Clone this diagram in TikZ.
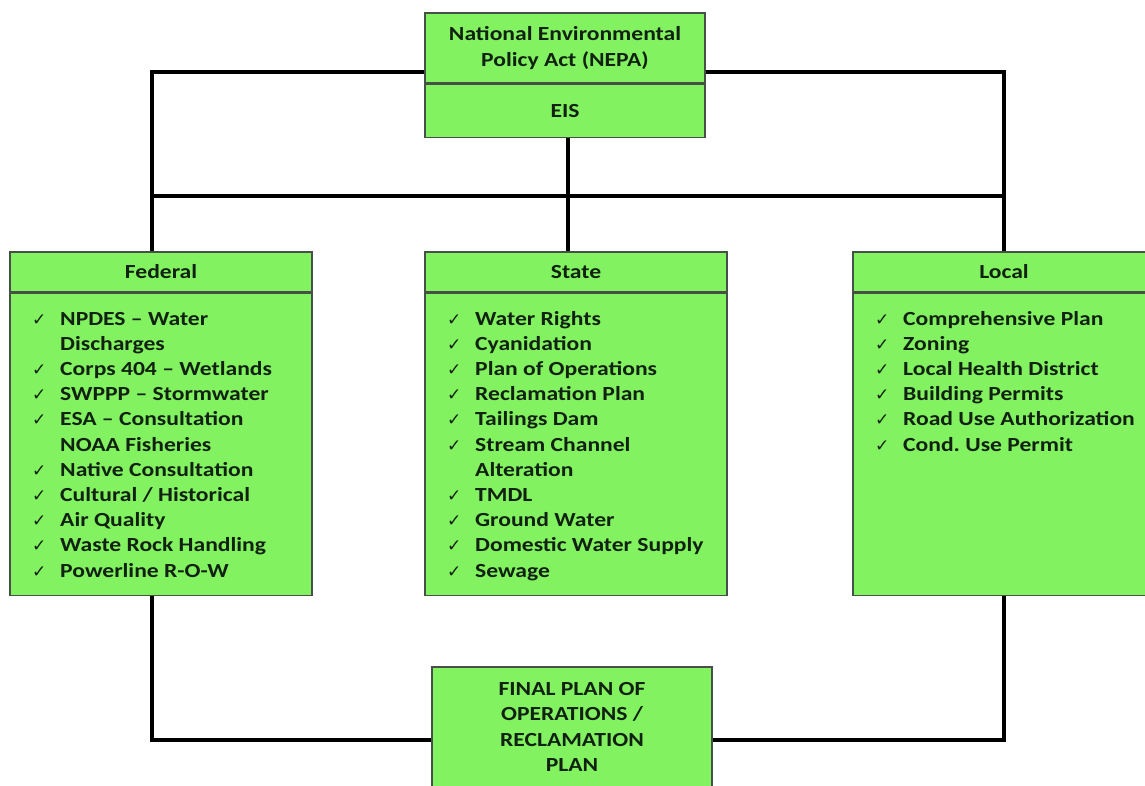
\documentclass[tikz,border=0pt]{standalone}
\usepackage{fontspec}
\setmainfont{Carlito}[FakeStretch=1.18]
\newfontfamily\symfont{DejaVu Sans}
\usetikzlibrary{positioning}
\definecolor{boxgreen}{RGB}{130, 242, 96}
\definecolor{edgegray}{RGB}{70, 80, 70}
\definecolor{textdark}{RGB}{18, 34, 18}
\newcommand{\chk}{\makebox[28pt][l]{{\symfont\fontsize{17}{17}\selectfont ✓}}}
\newcommand{\cnt}{\hspace*{28pt}}

\begin{document}
\begin{tikzpicture}[
    x=1pt, y=-1pt,
    box/.style={rectangle, draw=edgegray, fill=boxgreen, line width=1.2pt, inner sep=0pt, align=center, font=\fontsize{20}{25.5}\selectfont\bfseries, text=textdark},
    head/.style={box, minimum width=302pt, minimum height=40pt},
    body/.style={box, minimum width=302pt, minimum height=302pt},
    list/.style={inner sep=0pt, align=left, anchor=base west, font=\fontsize{20}{25.2}\selectfont\bfseries, text=textdark},
    link/.style={line width=4pt, color=black},
]

\clip (0,0) rectangle (1145,786);

% NEPA
\node[box, minimum width=280pt, minimum height=70pt] (nepa) at (565,48) {National Environmental\\Policy Act (NEPA)};
\node[box, minimum width=280pt, minimum height=53pt, below=0pt of nepa] (eis) {EIS};

% Agencies
\node[head] (fedhead) at (161,272) {Federal};
\node[body, below=0pt of fedhead] (fedbody) {};
\node[head] (stathead) at (576,272) {State};
\node[body, below=0pt of stathead] (statbody) {};
\node[head] (lochead) at (1004,272) {Local};
\node[body, below=0pt of lochead] (locbody) {};

% lists (anchored on their last line)
\node[list] (fedlist) at (32,577) {\chk NPDES – Water\\\cnt Discharges\\\chk Corps 404 – Wetlands\\\chk SWPPP – Stormwater\\\chk ESA – Consultation\\\cnt NOAA Fisheries\\\chk Native Consultation\\\chk Cultural / Historical\\\chk Air Quality\\\chk Waste Rock Handling\\\chk Powerline R-O-W};
\node[list] (statlist) at (447,577) {\chk Water Rights\\\chk Cyanidation\\\chk Plan of Operations\\\chk Reclamation Plan\\\chk Tailings Dam\\\chk Stream Channel\\\cnt Alteration\\\chk TMDL\\\chk Ground Water\\\chk Domestic Water Supply\\\chk Sewage};
\node[list] (loclist) at (875,451) {\chk Comprehensive Plan\\\chk Zoning\\\chk Local Health District\\\chk Building Permits\\\chk Road Use Authorization\\\chk Cond.\ Use Permit};

% Final plan
\node[box, minimum width=280pt, minimum height=120pt] (final) at (572,727) {FINAL PLAN OF\\OPERATIONS /\\RECLAMATION\\PLAN};

% Links
\coordinate (hub) at (568,196);
\coordinate (fedtap) at ([xshift=-9pt]fedhead.north);
\draw[link] ([yshift=-24pt]nepa.west) -| (fedtap);
\draw[link] ([yshift=-24pt]nepa.east) -| (lochead.north);
\draw[link] (eis.south -| hub) -- (hub |- stathead.north);
\draw[link] (fedtap |- hub) -- (lochead.north |- hub);
\draw[link] ([xshift=-9pt]fedbody.south) |- ([yshift=-13pt]final.west);
\draw[link] (locbody.south) |- ([yshift=-13pt]final.east);

\end{tikzpicture}
\end{document}
